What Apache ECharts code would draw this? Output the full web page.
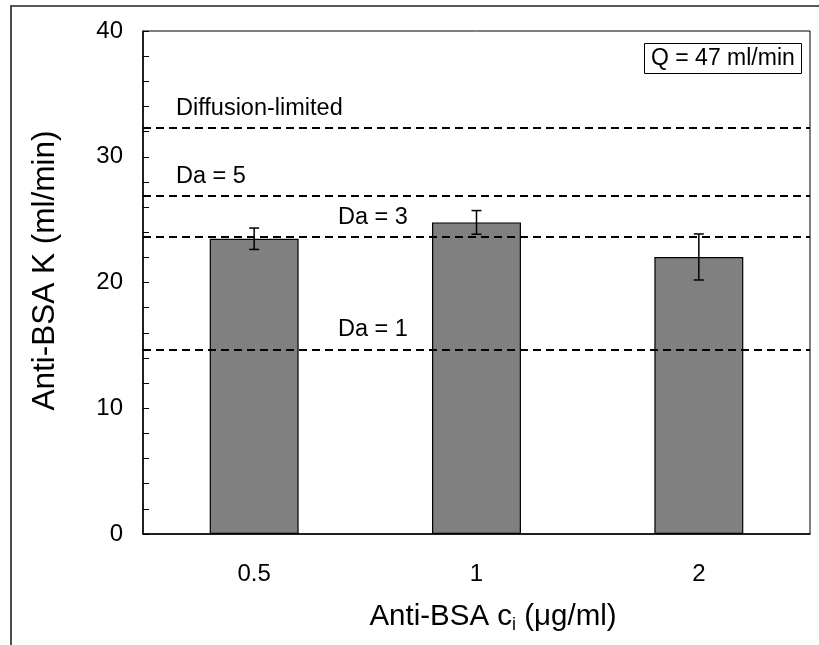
<!DOCTYPE html>
<html>
<head>
<meta charset="utf-8">
<script src="https://cdn.jsdelivr.net/npm/echarts@6/dist/echarts.min.js"></script>
<style>
html,body{margin:0;padding:0;background:#fff;}
#chart{width:819px;height:645px;}
</style>
</head>
<body>
<div id="chart"></div>
<script>
// ---- data ----
const categories = ['0.5', '1', '2'];
const kMeans = [23.48, 24.78, 22.03];
const kErrors = [0.85, 0.94, 1.83];
const refNames = ['Diffusion-limited', 'Da = 5', 'Da = 3', 'Da = 1'];
const refValues = [32.3, 26.9, 23.65, 14.65];
const yTicks = [0, 10, 20, 30, 40];

// ---- styles ----
const FONT = '"Liberation Sans", Arial, Helvetica, sans-serif';
const refLabelDist = [[33, 7], [33, 7], [195, 7], [195, 8]];

const errData = kMeans.map((m, i) => [i, m - kErrors[i], m + kErrors[i]]);

const chart = echarts.init(document.getElementById('chart'), null, {renderer: 'canvas'});
chart.setOption({
  animation: false,
  backgroundColor: '#fff',
  textStyle: {fontFamily: FONT},
  title: {
    text: 'Q = 47 ml/min',
    left: 644, top: 43,
    padding: [4, 7],
    borderColor: '#000', borderWidth: 1,
    textStyle: {fontSize: 23, fontWeight: 'normal', color: '#000', fontFamily: FONT}
  },
  graphic: [{
    type: 'rect', silent: true, z: -1,
    shape: {x: 11, y: 6, width: 900, height: 800},
    style: {fill: 'none', stroke: '#222', lineWidth: 1.6}
  }],
  grid: {left: 143, right: 9, top: 31, bottom: 111, show: true, borderColor: '#000', borderWidth: 1, backgroundColor: 'transparent'},
  xAxis: [{
    type: 'category', data: categories, position: 'bottom',
    axisLine: {lineStyle: {color: '#000', width: 1.5}},
    axisTick: {inside: true, length: 5, lineStyle: {color: '#000', width: 1}},
    axisLabel: {fontSize: 24, color: '#000', margin: 28, fontFamily: FONT},
    name: 'Anti-BSA c{sub|i} (μg/ml)',
    nameLocation: 'middle', nameGap: 66,
    nameTextStyle: {
      fontSize: 29.5, color: '#000', fontFamily: FONT, lineHeight: 34,
      padding: [0, 0, 0, 33],
      rich: {sub: {fontSize: 18, color: '#000', fontFamily: FONT, verticalAlign: 'bottom', lineHeight: 34}}
    }
  }, {
    type: 'category', data: categories, position: 'bottom',
    axisLine: {show: false},
    axisTick: {inside: true, alignWithLabel: true, length: 5, lineStyle: {color: '#000', width: 1}},
    axisLabel: {show: false}
  }],
  yAxis: {
    type: 'value', min: 0, max: 40, interval: 2,
    axisLine: {show: true, lineStyle: {color: '#000', width: 1.5}},
    axisTick: {show: true, inside: true, length: 6, lineStyle: {color: '#000', width: 1}},
    splitLine: {show: false},
    axisLabel: {
      fontSize: 24, color: '#000', margin: 20, fontFamily: FONT,
      formatter: v => (yTicks.indexOf(v) >= 0 ? String(v) : '')
    },
    name: 'Anti-BSA K (ml/min)',
    nameLocation: 'middle', nameGap: 82,
    nameTextStyle: {fontSize: 31.5, color: '#000', fontFamily: FONT, padding: [0, 0, 0, 24]}
  },
  series: [{
    type: 'bar',
    data: kMeans,
    barWidth: '40%',
    itemStyle: {color: '#808080', borderColor: '#000', borderWidth: 1.2},
    markLine: {
      silent: true,
      symbol: 'none',
      lineStyle: {color: '#000', width: 2, type: [8, 5]},
      data: refValues.map((v, i) => ({
        yAxis: v,
        name: refNames[i],
        label: {
          show: true, position: 'insideStartTop', formatter: refNames[i],
          distance: refLabelDist[i], fontSize: 23.5, color: '#000', fontFamily: FONT
        }
      }))
    }
  }, {
    type: 'custom',
    data: errData,
    z: 5,
    renderItem: function (params, api) {
      const x = api.value(0);
      const lo = api.coord([x, api.value(1)]);
      const hi = api.coord([x, api.value(2)]);
      const w = 5;
      const st = {stroke: '#000', lineWidth: 1.5};
      return {
        type: 'group',
        children: [
          {type: 'line', shape: {x1: lo[0], y1: lo[1], x2: hi[0], y2: hi[1]}, style: st},
          {type: 'line', shape: {x1: lo[0] - w, y1: lo[1], x2: lo[0] + w, y2: lo[1]}, style: st},
          {type: 'line', shape: {x1: hi[0] - w, y1: hi[1], x2: hi[0] + w, y2: hi[1]}, style: st}
        ]
      };
    }
  }]
});
</script>
</body>
</html>
